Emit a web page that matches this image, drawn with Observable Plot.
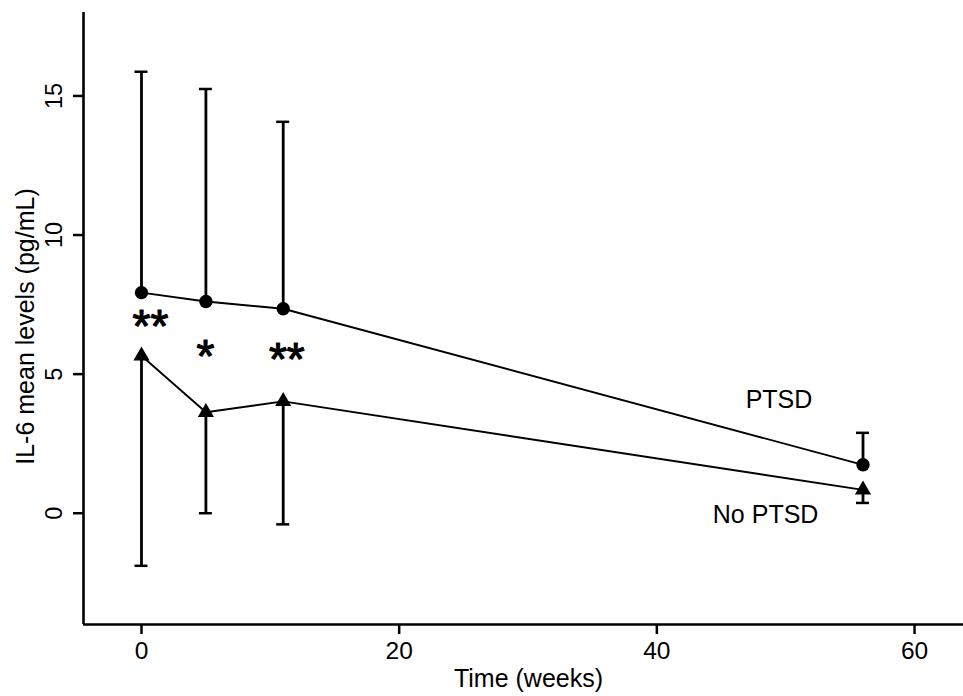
<!DOCTYPE html>
<html>
<head>
<meta charset="utf-8">
<script src="https://cdn.jsdelivr.net/npm/d3@7"></script>
<script src="https://cdn.jsdelivr.net/npm/@observablehq/plot@0.6"></script>
<style>
  html, body { margin: 0; padding: 0; background: #fff; }
  #chart svg { display: block; }
</style>
</head>
<body>
<div id="chart"></div>
<script>
// ---- data ----
const weeks = [0, 5, 11, 56];
const ptsdMean = [7.93, 7.61, 7.35, 1.74];
const ptsdUpper = [15.87, 15.25, 14.07, 2.89];
const noPtsdMean = [5.66, 3.63, 4.02, 0.84];
const noPtsdLower = [-1.89, 0.0, -0.4, 0.37];

const starX = [0.7, 4.96, 11.28];
const starY = [6.91, 5.83, 5.72];
const starText = ["**", "*", "**"];

const groupLabels = ["PTSD", "No PTSD"];
const groupLabelX = [49.48, 48.44];
const groupLabelY = [3.8, -0.36];

const xTicks = [0, 20, 40, 60];
const yTicks = [0, 5, 10, 15];
const xDomain = [-4.5, 63.8];
const yDomain = [-4, 18];
const xTitle = "Time (weeks)";
const yTitle = "IL-6 mean levels (pg/mL)";

// ---- tables ----
const ptsd = weeks.map((w, i) => ({x: w, y: ptsdMean[i], e: ptsdUpper[i]}));
const noPtsd = weeks.map((w, i) => ({x: w, y: noPtsdMean[i], e: noPtsdLower[i]}));
const stars = starX.map((x, i) => ({x, y: starY[i], t: starText[i]}));
const labels = groupLabels.map((t, i) => ({x: groupLabelX[i], y: groupLabelY[i], t}));

const font = "'Liberation Sans', Arial, Helvetica, sans-serif";

const chart = Plot.plot({
  width: 963,
  height: 696,
  marginLeft: 83,
  marginRight: 0,
  marginTop: 12,
  marginBottom: 72,
  style: {fontFamily: font, background: "#fff", color: "#000"},
  x: {domain: xDomain, axis: null},
  y: {domain: yDomain, axis: null},
  marks: [
    // axis lines
    Plot.ruleX([xDomain[0]], {x: d => d, stroke: "#000", strokeWidth: 2.6}),
    Plot.ruleY([yDomain[0]], {y: d => d, stroke: "#000", strokeWidth: 2.6}),
    // ticks
    Plot.ruleX(xTicks, {x: d => d, y1: () => yDomain[0], y2: () => yDomain[0], insetBottom: -10, stroke: "#000", strokeWidth: 2.5}),
    Plot.ruleY(yTicks, {y: d => d, x1: () => xDomain[0], x2: () => xDomain[0], insetLeft: -10, stroke: "#000", strokeWidth: 2.5}),
    // tick labels
    Plot.text(xTicks, {x: d => d, text: d => String(d), frameAnchor: "bottom", lineAnchor: "bottom", dy: 34, fontSize: 24.5, fill: "#000"}),
    Plot.text(yTicks, {y: d => d, text: d => String(d), frameAnchor: "left", lineAnchor: "bottom", textAnchor: "middle", rotate: -90, dx: -22, fontSize: 23.5, fill: "#000"}),
    // axis titles
    Plot.text([xTitle], {text: d => d, frameAnchor: "bottom", lineAnchor: "bottom", dx: 5, dy: 62, fontSize: 25, fill: "#000"}),
    Plot.text([yTitle], {text: d => d, frameAnchor: "left", lineAnchor: "bottom", textAnchor: "middle", rotate: -90, dx: -50, dy: 8, fontSize: 25, fill: "#000"}),
    // error bars
    Plot.ruleX(ptsd, {x: "x", y1: "y", y2: "e", stroke: "#000", strokeWidth: 2.8}),
    Plot.ruleY(ptsd, {y: "e", x1: "x", x2: "x", insetLeft: -6.5, insetRight: -6.5, stroke: "#000", strokeWidth: 2.5}),
    Plot.ruleX(noPtsd, {x: "x", y1: "e", y2: "y", stroke: "#000", strokeWidth: 2.8}),
    Plot.ruleY(noPtsd, {y: "e", x1: "x", x2: "x", insetLeft: -6.5, insetRight: -6.5, stroke: "#000", strokeWidth: 2.5}),
    // lines
    Plot.line(ptsd, {x: "x", y: "y", stroke: "#000", strokeWidth: 1.9}),
    Plot.line(noPtsd, {x: "x", y: "y", stroke: "#000", strokeWidth: 1.9}),
    // markers
    Plot.dot(ptsd, {x: "x", y: "y", r: 6.7, fill: "#000", stroke: "none", symbol: "circle"}),
    Plot.dot(noPtsd, {x: "x", y: "y", r: 6, fill: "#000", stroke: "none", symbol: "triangle"}),
    // significance stars
    Plot.text(stars, {x: "x", y: "y", text: "t", lineAnchor: "bottom", dy: 21, fontSize: 46, fill: "#000", stroke: "#000", strokeWidth: 1.2}),
    // group labels
    Plot.text(labels, {x: "x", y: "y", text: "t", lineAnchor: "bottom", fontSize: 25, fill: "#000"})
  ]
});
document.getElementById("chart").appendChild(chart);
</script>
</body>
</html>
